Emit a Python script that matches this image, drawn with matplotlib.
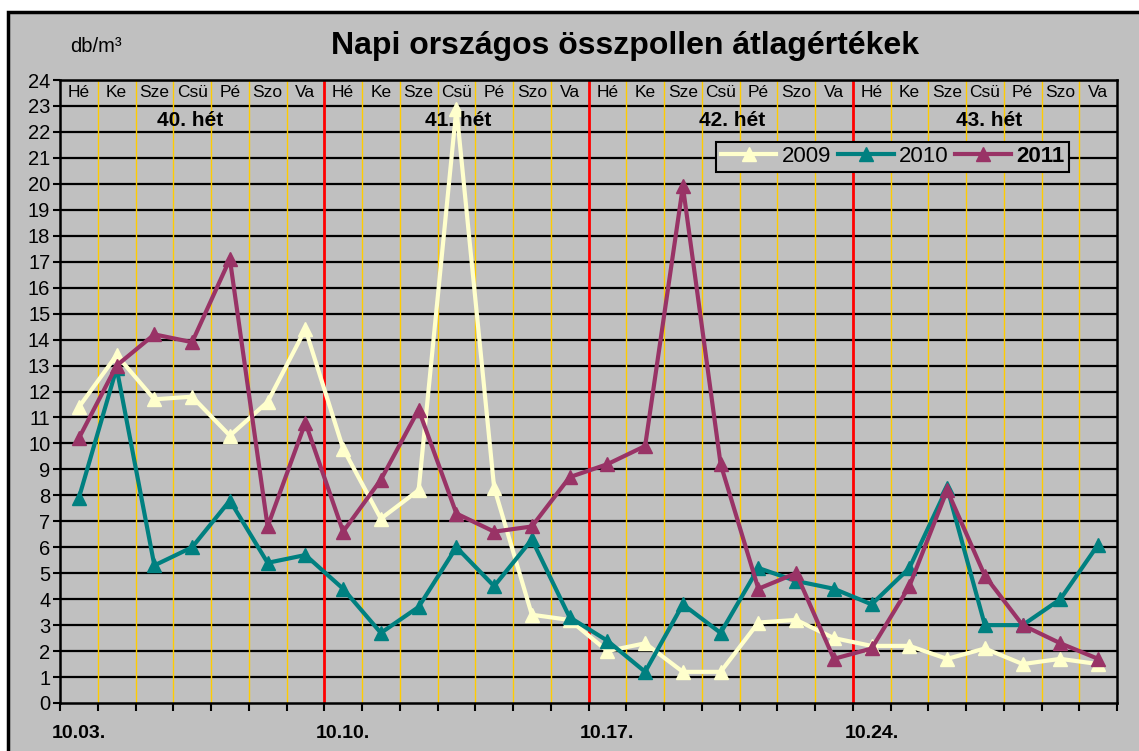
import matplotlib
matplotlib.use("Agg")
import matplotlib.pyplot as plt
from matplotlib.patches import Rectangle
from matplotlib.lines import Line2D

plt.rcParams['font.family'] = ['Liberation Sans', 'DejaVu Sans']

# daily values, 10.03. - 10.30.
pollen_2009 = [11.4, 13.4, 11.7, 11.8, 10.3, 11.6, 14.4,
               9.8, 7.1, 8.2, 22.9, 8.3, 3.4, 3.2,
               2.0, 2.3, 1.2, 1.2, 3.1, 3.2, 2.5,
               2.2, 2.2, 1.7, 2.1, 1.5, 1.7, 1.5]
pollen_2010 = [7.9, 12.9, 5.3, 6.0, 7.8, 5.4, 5.7,
               4.4, 2.7, 3.7, 6.0, 4.5, 6.3, 3.3,
               2.4, 1.2, 3.8, 2.7, 5.2, 4.7, 4.4,
               3.8, 5.2, 8.3, 3.0, 3.0, 4.0, 6.1]
pollen_2011 = [10.2, 13.0, 14.2, 13.9, 17.1, 6.8, 10.8,
               6.6, 8.6, 11.3, 7.3, 6.6, 6.8, 8.7,
               9.2, 9.9, 19.9, 9.2, 4.4, 5.0, 1.7,
               2.1, 4.5, 8.2, 4.9, 3.0, 2.3, 1.7]

day_names = ["Hé", "Ke", "Sze", "Csü", "Pé", "Szo", "Va"]
week_labels = ["40. hét", "41. hét", "42. hét", "43. hét"]
week_label_pos = [2.95, 10.06, 17.3, 24.1]
date_labels = ["10.03.", "10.10.", "10.17.", "10.24."]
date_pos = [0, 7, 14, 21]

W, H = 1139, 751
fig = plt.figure(figsize=(W / 100, H / 100), dpi=100, facecolor="white")

# chart area background with border
bg = Rectangle((8 / W, -0.05), 1.1, (H - 12) / H + 0.05,
               transform=fig.transFigure, facecolor="#C0C0C0",
               edgecolor="black", linewidth=2.5, zorder=-10)
fig.patches.append(bg)

ax = fig.add_axes([60 / W, 48 / H, 1057 / W, 623 / H])
ax.set_facecolor("#C0C0C0")

n = len(pollen_2009)
days = list(range(n))
ax.set_xlim(-0.5, n - 0.5)
ax.set_ylim(0, 24)

# grid lines
for v in range(1, 25):
    ax.axhline(v, color="black", linewidth=1.6, zorder=1)
for b in range(1, n):
    if b % 7 == 0:
        ax.axvline(b - 0.5, color="#FF0000", linewidth=2, zorder=1.5)
    else:
        ax.axvline(b - 0.5, color="#FFCC00", linewidth=1, zorder=1.2)

# series
style = dict(linewidth=3, marker="^", markersize=10)
ax.plot(days, pollen_2009, color="#FFFFCC", zorder=3, **style)
ax.plot(days, pollen_2010, color="#008080", zorder=4, **style)
ax.plot(days, pollen_2011, color="#993366", zorder=5, **style)

# day names and week labels
for d in days:
    ax.text(d, 23.5, day_names[d % 7], ha="center", va="center", fontsize=12.5, zorder=6)
for x, lab in zip(week_label_pos, week_labels):
    ax.text(x, 22.45, lab, ha="center", va="center", fontsize=15,
            fontweight="bold", zorder=6)

# axes ticks
ax.set_yticks(range(0, 25))
ax.tick_params(axis="y", direction="out", length=5, width=1.5, labelsize=14.5, pad=2)
ax.set_xticks([b - 0.5 for b in range(n + 1)])
ax.set_xticklabels([])
ax.tick_params(axis="x", which="major", direction="out", length=6, width=1.5)
ax.set_xticks(date_pos, minor=True)
ax.set_xticklabels(date_labels, minor=True, fontsize=14, fontweight="bold")
ax.tick_params(axis="x", which="minor", length=0, pad=16)

for s in ax.spines.values():
    s.set_linewidth(1.8)
    s.set_color("black")
    s.set_zorder(7)

# legend
handles = [Line2D([], [], color=c, linewidth=3, marker="^", markersize=10)
           for c in ["#FFFFCC", "#008080", "#993366"]]
leg = ax.legend(handles, ["2009", "2010", "2011"], loc="upper left",
                bbox_to_anchor=(0.621, 0.901), ncol=3, fontsize=16,
                frameon=True, fancybox=False, edgecolor="black",
                facecolor="#C0C0C0", framealpha=1, handlelength=2.5,
                handletextpad=0.25, columnspacing=0.3, borderpad=0.2,
                borderaxespad=0)
leg.get_frame().set_linewidth(1.5)
leg.set_zorder(8)
leg.get_texts()[2].set_fontweight("bold")

fig.text(70 / W, 1 - 46 / H, "db/m³", fontsize=14.5, ha="left", va="center")
fig.text(625 / W, 1 - 46 / H, "Napi országos összpollen átlagértékek",
         fontsize=23, fontweight="bold", ha="center", va="center")

fig.savefig("out.png", dpi=100, facecolor="white")
